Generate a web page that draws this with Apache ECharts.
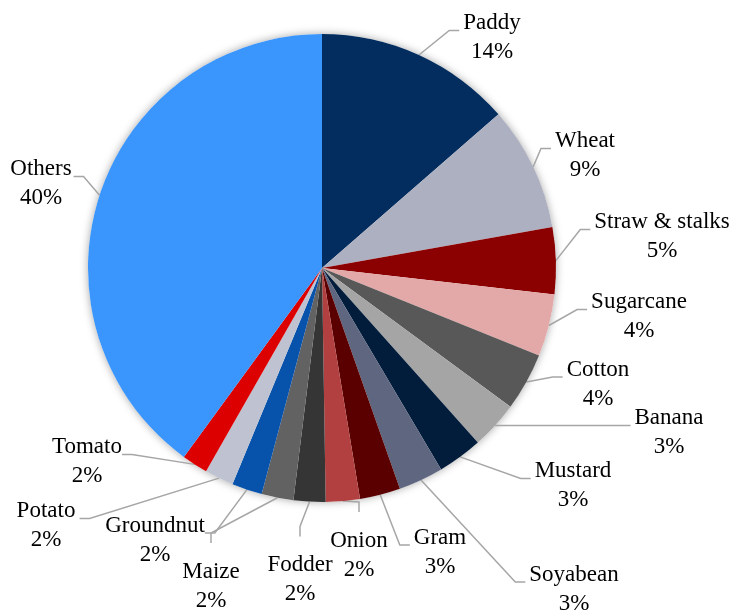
<!DOCTYPE html>
<html><head><meta charset="utf-8">
<script src="https://cdn.jsdelivr.net/npm/echarts@6/dist/echarts.min.js"></script>
<style>html,body{margin:0;padding:0;background:#fff;}#c{width:741px;height:610px;}</style>
</head><body><div id="c"></div>
<script>
const categories = ['Paddy','Wheat','Straw & stalks','Sugarcane','Cotton','Banana','Mustard','Soyabean','Gram','Onion','Fodder','Maize','Groundnut','Potato','Tomato','Others'];
const shares = [13.6, 8.6, 4.6, 4.3, 4.0, 3.3, 3.1, 3.1, 2.8, 2.35, 2.2, 2.2, 2.1, 2.0, 1.8, 39.95];
const colors = ['#032d5f','#adb0c0','#8b0000','#e3a9a9','#585858','#a5a5a5','#021d3b','#5e6680','#5a0000','#b34040','#353535','#626262','#0753ac','#bfc2d0','#dc0000','#3a95fc'];
// label block centres (x, y of leader-line anchor)
const labelPos = [[492,30.5],[585,148.5],[662,229.5],[639,309.5],[598,377],[669,425.5],[573,478.5],[574,582],[440,545],[359,548],[300,572.5],[211,579],[155,533],[46,518.5],[87,454.5],[41,176.5]];

const chart = echarts.init(document.getElementById('c'), null, {renderer:'canvas'});
chart.setOption({
  backgroundColor:'#fff',
  animation:false,
  series:[
    {
      type:'pie', silent:true, center:[322,268], radius:234, z:1,
      data:[{value:1, name:'bg'}],
      itemStyle:{color:'#fff', shadowBlur:8, shadowColor:'rgba(0,0,0,0.35)'},
      label:{show:false}, labelLine:{show:false}
    },
    {
      type:'pie', center:[322,268], radius:234, startAngle:90, clockwise:true, z:2,
      data: categories.map((n,i)=>({name:n, value:shares[i], itemStyle:{color:colors[i]}})),
      itemStyle:{borderWidth:0},
      label:{
        show:true, position:'outside', overflow:'none',
        fontFamily:'Liberation Serif', fontSize:23, color:'#000', lineHeight:29,
        align:'center', padding:[0,4,0,4],
        formatter: p => '{s| }\n{t|' + p.name + '}\n{t|' + Math.round(p.percent) + '%}',
        rich:{
          s:{fontSize:10, lineHeight:14, height:14},
          t:{fontFamily:'Liberation Serif', fontSize:23, color:'#000', lineHeight:29}
        }
      },
      labelLine:{show:true, length:10, length2:10, smooth:false, lineStyle:{color:'#a6a6a6', width:1.5}},
      labelLayout: function(params){
        const p = labelPos[params.dataIndex];
        return {x:p[0], y:p[1], align:'center', verticalAlign:'middle'};
      }
    }
  ]
});
</script></body></html>
